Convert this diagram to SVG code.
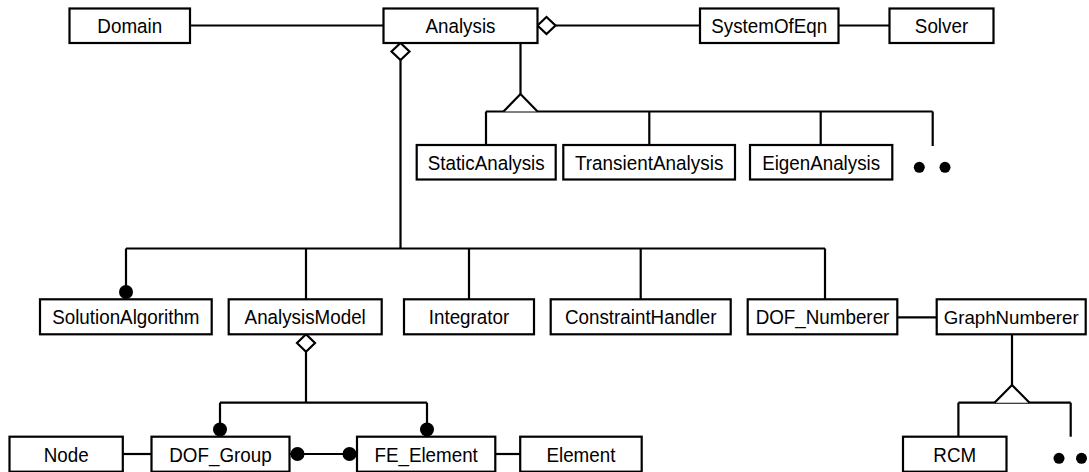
<svg xmlns="http://www.w3.org/2000/svg" width="1089" height="472" viewBox="0 0 1089 472">
<style>
.box rect{fill:#fff;stroke:#000;stroke-width:2.2}
.box text{font-family:"Liberation Sans",Arial,sans-serif;font-size:20.5px;fill:#000;text-anchor:middle}
.conn line,.conn polyline{stroke:#000;stroke-width:2.2;fill:none}
.conn .dia{fill:#fff;stroke:#000;stroke-width:2.2}
.conn .tri{fill:#fff;stroke:#000;stroke-width:2.2}
.dot{fill:#000}
</style>
<rect width="1089" height="472" fill="#fff"/>
<g id="connectors" class="conn">
  <line x1="190" y1="25.5" x2="383.5" y2="25.5"/>
  <line x1="555.5" y1="25.5" x2="700" y2="25.5"/>
  <polygon class="dia" points="537.5,25.5 546.5,17 555.5,25.5 546.5,34"/>
  <line x1="838.5" y1="25.5" x2="889.5" y2="25.5"/>
  <line x1="400.5" y1="60" x2="400.5" y2="248.5"/>
  <polygon class="dia" points="400.5,43 409.5,51.5 400.5,60 391.5,51.5"/>
  <line x1="520.5" y1="43" x2="520.5" y2="94"/>
  <line x1="486" y1="111.5" x2="932.7" y2="111.5"/>
  <polyline class="tri" points="503.5,111.5 520.5,94 537.5,111.5"/>
  <line x1="486" y1="111.5" x2="486" y2="145"/>
  <line x1="649.3" y1="111.5" x2="649.3" y2="145"/>
  <line x1="820.7" y1="111.5" x2="820.7" y2="145"/>
  <line x1="932.7" y1="111.5" x2="932.7" y2="146"/>
  <circle class="dot" cx="919.3" cy="167.3" r="5.5"/>
  <circle class="dot" cx="945" cy="167.3" r="5.5"/>
  <line x1="126" y1="248.5" x2="825" y2="248.5"/>
  <line x1="126" y1="248.5" x2="126" y2="292"/>
  <circle class="dot" cx="126" cy="292" r="7"/>
  <line x1="306" y1="248.5" x2="306" y2="299.3"/>
  <line x1="469" y1="248.5" x2="469" y2="299.3"/>
  <line x1="640.7" y1="248.5" x2="640.7" y2="299.3"/>
  <line x1="825" y1="248.5" x2="825" y2="299.3"/>
  <line x1="897.3" y1="317.3" x2="936.7" y2="317.3"/>
  <line x1="306" y1="351.7" x2="306" y2="402.7"/>
  <polygon class="dia" points="306,334.3 315,343 306,351.7 297,343"/>
  <line x1="220" y1="402.7" x2="427" y2="402.7"/>
  <line x1="220" y1="402.7" x2="220" y2="429.5"/>
  <line x1="427" y1="402.7" x2="427" y2="429.5"/>
  <circle class="dot" cx="220" cy="429.5" r="7"/>
  <circle class="dot" cx="427" cy="429.5" r="7"/>
  <line x1="122.8" y1="454" x2="151.5" y2="454"/>
  <line x1="289.5" y1="454" x2="357" y2="454"/>
  <circle class="dot" cx="297.5" cy="454" r="7"/>
  <circle class="dot" cx="349.5" cy="454" r="7"/>
  <line x1="495.3" y1="454" x2="520.2" y2="454"/>
  <line x1="1012" y1="334.3" x2="1012" y2="385"/>
  <line x1="958.4" y1="402.7" x2="1070.7" y2="402.7"/>
  <polyline class="tri" points="994.5,402.7 1012,385 1029.5,402.7"/>
  <line x1="958.4" y1="402.7" x2="958.4" y2="436.7"/>
  <line x1="1070.7" y1="402.7" x2="1070.7" y2="436.7"/>
  <circle class="dot" cx="1059" cy="458.3" r="5.5"/>
  <circle class="dot" cx="1081.5" cy="458.3" r="5.5"/>
</g>
<g id="Domain" class="box"><rect x="69.5" y="8.5" width="120.5" height="34.5"/><text x="129.75" y="33.3" textLength="64.8" lengthAdjust="spacingAndGlyphs">Domain</text></g>
<g id="Analysis" class="box"><rect x="383.5" y="8.5" width="154" height="34.5"/><text x="460.5" y="33.3" textLength="70" lengthAdjust="spacingAndGlyphs">Analysis</text></g>
<g id="SystemOfEqn" class="box"><rect x="700" y="8.5" width="138.5" height="34.5"/><text x="769.25" y="33.3" textLength="116" lengthAdjust="spacingAndGlyphs">SystemOfEqn</text></g>
<g id="Solver" class="box"><rect x="889.5" y="8.5" width="104" height="34.5"/><text x="941.5" y="33.3" textLength="53.3" lengthAdjust="spacingAndGlyphs">Solver</text></g>
<g id="StaticAnalysis" class="box"><rect x="416.7" y="145" width="139" height="34.5"/><text x="486.2" y="169.8" textLength="117" lengthAdjust="spacingAndGlyphs">StaticAnalysis</text></g>
<g id="TransientAnalysis" class="box"><rect x="563.3" y="145" width="171.7" height="34.5"/><text x="649.15" y="169.8" textLength="148.4" lengthAdjust="spacingAndGlyphs">TransientAnalysis</text></g>
<g id="EigenAnalysis" class="box"><rect x="750" y="145" width="142.3" height="34.5"/><text x="821.15" y="169.8" textLength="118" lengthAdjust="spacingAndGlyphs">EigenAnalysis</text></g>
<g id="SolutionAlgorithm" class="box"><rect x="40" y="299.3" width="171.7" height="35"/><text x="125.85" y="324.3" textLength="147.3" lengthAdjust="spacingAndGlyphs">SolutionAlgorithm</text></g>
<g id="AnalysisModel" class="box"><rect x="228.7" y="299.3" width="153" height="35"/><text x="305.2" y="324.3" textLength="121.2" lengthAdjust="spacingAndGlyphs">AnalysisModel</text></g>
<g id="Integrator" class="box"><rect x="404" y="299.3" width="130" height="35"/><text x="469" y="324.3" textLength="80.5" lengthAdjust="spacingAndGlyphs">Integrator</text></g>
<g id="ConstraintHandler" class="box"><rect x="550.7" y="299.3" width="180" height="35"/><text x="640.7" y="324.3" textLength="151.5" lengthAdjust="spacingAndGlyphs">ConstraintHandler</text></g>
<g id="DOF_Numberer" class="box"><rect x="747.7" y="299.3" width="149.6" height="35"/><text x="822.5" y="324.3" textLength="133.7" lengthAdjust="spacingAndGlyphs">DOF_Numberer</text></g>
<g id="GraphNumberer" class="box"><rect x="936.7" y="299.3" width="149" height="35"/><text x="1011.2" y="324" style="font-size:19px" textLength="135" lengthAdjust="spacingAndGlyphs">GraphNumberer</text></g>
<g id="Node" class="box"><rect x="9.5" y="436.7" width="113.3" height="35"/><text x="66.15" y="461.7" textLength="44.9" lengthAdjust="spacingAndGlyphs">Node</text></g>
<g id="DOF_Group" class="box"><rect x="151.5" y="436.7" width="138" height="35"/><text x="220.5" y="461.7" textLength="102.4" lengthAdjust="spacingAndGlyphs">DOF_Group</text></g>
<g id="FE_Element" class="box"><rect x="357" y="436.7" width="138.3" height="35"/><text x="426.15" y="461.7" textLength="103.4" lengthAdjust="spacingAndGlyphs">FE_Element</text></g>
<g id="Element" class="box"><rect x="520.2" y="436.7" width="121.5" height="35"/><text x="580.95" y="461.7" textLength="69" lengthAdjust="spacingAndGlyphs">Element</text></g>
<g id="RCM" class="box"><rect x="903" y="436.7" width="103.5" height="35"/><text x="954.75" y="461.7" textLength="42.8" lengthAdjust="spacingAndGlyphs">RCM</text></g>
</svg>
